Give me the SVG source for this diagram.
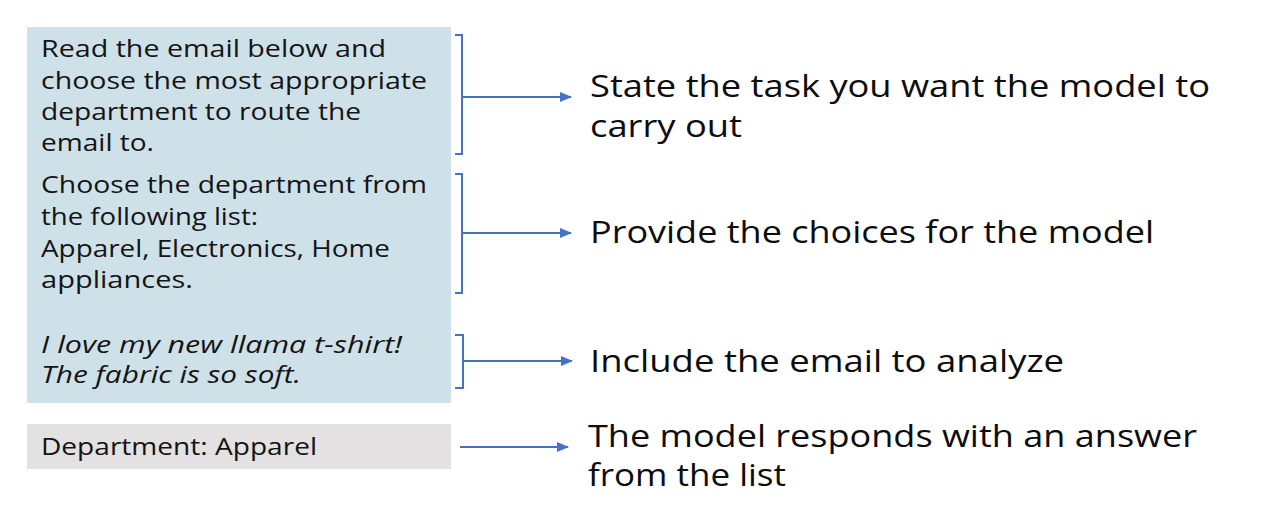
<svg xmlns="http://www.w3.org/2000/svg" width="1264" height="509" viewBox="0 0 1264 509">
<style>
.l{font-family:"Open Sans","Noto Sans",sans-serif;font-size:24px;fill:#141414}
.i{font-style:italic}
.r{font-family:"Open Sans","Noto Sans",sans-serif;font-size:31px;fill:#0d0d0d}
.br{fill:none;stroke:#4472c4;stroke-width:2}
.ar{fill:none;stroke:#4472c4;stroke-width:2;marker-end:url(#ah)}
</style>
<defs>
<marker id="ah" markerWidth="12" markerHeight="10" refX="11" refY="5" orient="auto" markerUnits="userSpaceOnUse">
<path d="M0,0 L12,5 L0,10 Z" fill="#4472c4"/>
</marker>
</defs>
<rect width="1264" height="509" fill="#ffffff"/>
<g id="prompt-box">
<rect x="27" y="27" width="424" height="376" fill="#cfe1e8"/>
<text class="l" x="41" y="57" textLength="345" lengthAdjust="spacingAndGlyphs">Read the email below and</text>
<text class="l" x="41" y="89" textLength="386" lengthAdjust="spacingAndGlyphs">choose the most appropriate</text>
<text class="l" x="41" y="120" textLength="320" lengthAdjust="spacingAndGlyphs">department to route the</text>
<text class="l" x="41" y="151" textLength="113" lengthAdjust="spacingAndGlyphs">email to.</text>
<text class="l" x="41" y="193" textLength="386" lengthAdjust="spacingAndGlyphs">Choose the department from</text>
<text class="l" x="41" y="225" textLength="217" lengthAdjust="spacingAndGlyphs">the following list:</text>
<text class="l" x="41" y="257" textLength="349" lengthAdjust="spacingAndGlyphs">Apparel, Electronics, Home</text>
<text class="l" x="41" y="288" textLength="152" lengthAdjust="spacingAndGlyphs">appliances.</text>
<text class="l i" x="41" y="353" textLength="361" lengthAdjust="spacingAndGlyphs">I love my new llama t-shirt!</text>
<text class="l i" x="41" y="383" textLength="260" lengthAdjust="spacingAndGlyphs">The fabric is so soft.</text>
</g>
<g id="response-box">
<rect x="27" y="424" width="424" height="45" fill="#e3e1e1"/>
<text class="l" x="41" y="455" textLength="276" lengthAdjust="spacingAndGlyphs">Department: Apparel</text>
</g>
<g id="label-task">
<text class="r" x="590" y="97" textLength="620" lengthAdjust="spacingAndGlyphs">State the task you want the model to</text>
<text class="r" x="590" y="137" textLength="152" lengthAdjust="spacingAndGlyphs">carry out</text>
</g>
<g id="label-choices">
<text class="r" x="590" y="243" textLength="564" lengthAdjust="spacingAndGlyphs">Provide the choices for the model</text>
</g>
<g id="label-email">
<text class="r" x="590" y="372" textLength="474" lengthAdjust="spacingAndGlyphs">Include the email to analyze</text>
</g>
<g id="label-response">
<text class="r" x="588" y="447" textLength="609" lengthAdjust="spacingAndGlyphs">The model responds with an answer</text>
<text class="r" x="588" y="486" textLength="198" lengthAdjust="spacingAndGlyphs">from the list</text>
</g>
<g id="connectors">
<path class="br" d="M455,35 H462 V154 H455"/>
<path class="ar" d="M462,97 H571"/>
<path class="br" d="M455,174 H462 V293 H455"/>
<path class="ar" d="M462,233 H571"/>
<path class="br" d="M455,335 H463 V388 H455"/>
<path class="ar" d="M463,361 H572"/>
<path class="ar" d="M460,447 H568"/>
</g>
</svg>
